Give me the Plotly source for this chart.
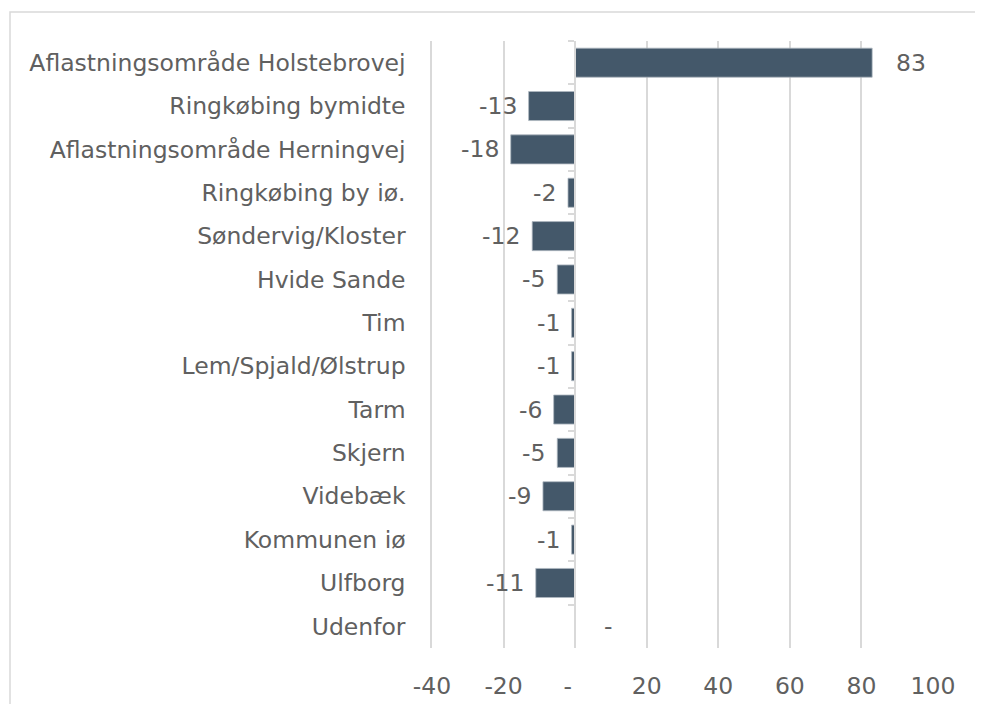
import plotly.graph_objects as go

categories = [
    "Aflastningsområde Holstebrovej", "Ringkøbing bymidte", "Aflastningsområde Herningvej",
    "Ringkøbing by iø.", "Søndervig/Kloster", "Hvide Sande", "Tim", "Lem/Spjald/Ølstrup",
    "Tarm", "Skjern", "Videbæk", "Kommunen iø", "Ulfborg", "Udenfor",
]
values = [83, -13, -18, -2, -12, -5, -1, -1, -6, -5, -9, -1, -11, 0]
tick_values = [-40, -20, 0, 20, 40, 60, 80, 100]
tick_labels = ["-40", "-20", "-\u00a0\u00a0", "20", "40", "60", "80", "100"]


def fmt(v):
    return "-" if v == 0 else str(v)


FONT = "DejaVu Sans"
TXT = "#606060"
GRID = "#d9d9d9"
BAR = "#44586a"
FS = 23.5

fig = go.Figure()
fig.add_trace(go.Bar(
    x=values, y=categories, orientation="h",
    marker=dict(color=BAR, line=dict(color="#aeb8c0", width=0.8)),
    hoverinfo="x+y", showlegend=False,
))
# invisible trace to drive the category axis drawn at x = 0
fig.add_trace(go.Scatter(
    x=[0] * len(categories), y=categories, yaxis="y2", mode="markers",
    marker=dict(opacity=0, size=1), hoverinfo="skip", showlegend=False,
))

for c, v in zip(categories, values):
    if v > 0:
        anchor, shift = "left", 22
    elif v < 0:
        anchor, shift = "right", -10
    else:
        anchor, shift = "left", 27
    fig.add_annotation(
        x=v, y=c, xref="x", yref="y", text=fmt(v), showarrow=False,
        xanchor=anchor, xshift=shift, yanchor="middle",
        font=dict(family=FONT, size=FS, color=TXT),
    )

xmin, xmax = -40, 100
zero_pos = (0 - xmin) / (xmax - xmin)
n = len(categories)
yrange = [n - 0.5, -0.5]

# plot area in figure pixels (page adds an 8px body margin)
L, R, T, B = 424, 925, 33, 642
W = R - L
H = B - T

fig.update_layout(
    width=983, height=704,
    margin=dict(l=L, r=983 - R, t=T, b=704 - B),
    paper_bgcolor="white", plot_bgcolor="white",
    font=dict(family=FONT, size=FS, color=TXT),
    bargap=0.33,
    xaxis=dict(
        range=[xmin, xmax], tickvals=tick_values, ticktext=tick_labels,
        showgrid=True, gridcolor=GRID, gridwidth=1.5,
        zeroline=False, showline=False, ticks="", ticklabelstandoff=21,
        tickfont=dict(family=FONT, size=FS, color=TXT), fixedrange=True,
    ),
    yaxis=dict(
        categoryorder="array", categoryarray=categories, range=yrange,
        showgrid=False, zeroline=False, showline=True, linecolor=GRID, linewidth=1.5,
        ticks="", ticklabelstandoff=20, tickfont=dict(family=FONT, size=FS, color=TXT),
        fixedrange=True,
    ),
    yaxis2=dict(
        overlaying="y", matches="y", anchor="free", position=zero_pos, side="left",
        categoryorder="array", categoryarray=categories,
        showline=True, linecolor=GRID, linewidth=1.5,
        ticks="outside", tickson="boundaries", ticklen=6, tickcolor=GRID, tickwidth=1.5,
        showticklabels=False, showgrid=False, zeroline=False, fixedrange=True,
    ),
    shapes=[dict(
        type="rect", xref="paper", yref="paper",
        x0=(2 - L) / W, x1=(1000 - L) / W,
        y0=(B - 720) / H, y1=1 + (T - 4) / H,
        line=dict(color=GRID, width=1.5), fillcolor="rgba(0,0,0,0)", layer="below",
    )],
)

fig.write_html("out.html")
